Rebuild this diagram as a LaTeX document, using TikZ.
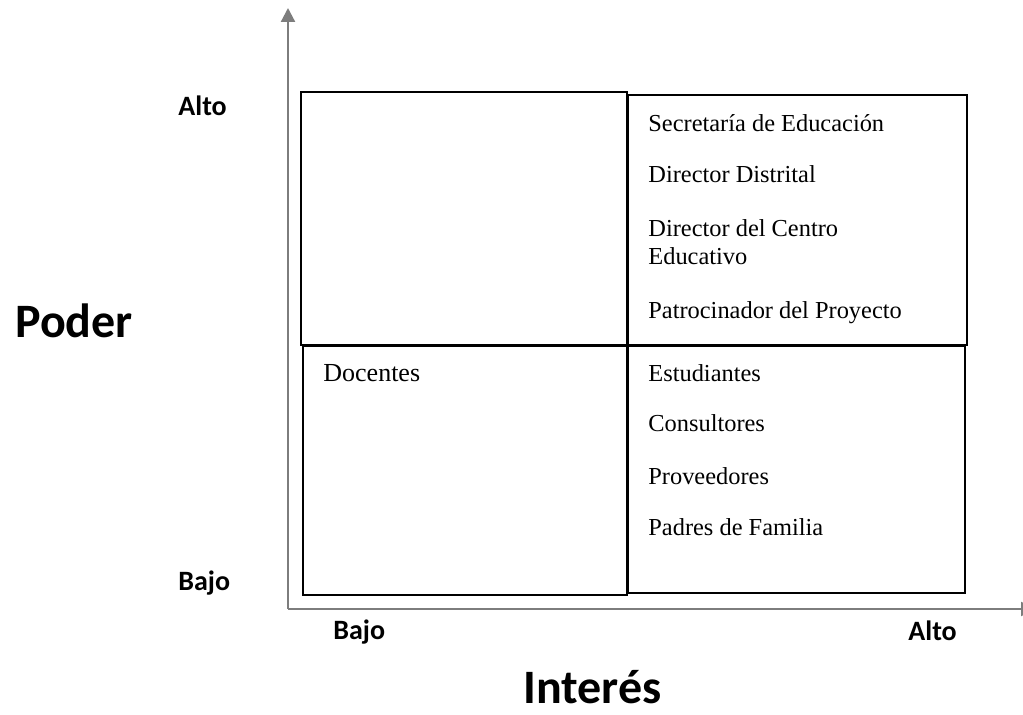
\documentclass[tikz,border=0pt]{standalone}
\usepackage{fontspec}
\setmainfont{Liberation Serif}
\newfontfamily\etiqfont{Carlito}
\usetikzlibrary{arrows.meta}
\definecolor{ejegris}{RGB}{125,125,125}
\tikzset{
	eje/.style={ejegris, line width=1.1pt, -{Triangle[length=7pt,width=7pt]}},
	cuadro/.style={black, line width=1.3pt},
	actor/.style={anchor=base west, inner sep=0pt, align=left, font=\fontsize{12.2}{14}\selectfont},
	nivel/.style={anchor=base west, inner sep=0pt, font=\etiqfont\bfseries\fontsize{14}{16}\selectfont},
	titulo/.style={anchor=base west, inner sep=0pt, font=\etiqfont\bfseries\fontsize{24}{28}\selectfont}
}
\begin{document}
\begin{tikzpicture}[x=0.5pt, y=-0.5pt]
		
		\useasboundingbox (0,0) rectangle (1023,715);
		
		% ejes
		\coordinate (origen) at (288,609);
		\coordinate (ytope) at (288,8);
		\coordinate (xtope) at (1035,609);
		\draw[eje] (origen) -- (ytope);
		\draw[eje] (origen) -- (xtope);
		
		% cuadrantes
		\draw[cuadro] (301,92) rectangle (627,345);
		\draw[cuadro] (628,95) rectangle (967,345);
		\draw[cuadro] (303,346) rectangle (627,595);
		\draw[cuadro] (628,346) rectangle (965,593);
		
		\node[actor] (secretaria) at (648,132) {Secretaría de Educación};
		\node[actor] (distrital) at (648,183) {Director Distrital};
		\node[actor] (centro) at (648,265) {Director del Centro\\Educativo};
		\node[actor] (patrocinador) at (648,319) {Patrocinador del Proyecto};
		\node[actor] (estudiantes) at (648,382) {Estudiantes};
		\node[actor] (consultores) at (648,432) {Consultores};
		\node[actor] (proveedores) at (648,485) {Proveedores};
		\node[actor] (padres) at (648,536) {Padres de Familia};
		\node[actor, font=\fontsize{13}{15}\selectfont] (docentes) at (323,382) {Docentes};
		
		% etiquetas de los ejes
		\node[nivel] (altoy) at (178,116) {Alto};
		\node[nivel] (bajoy) at (178,591) {Bajo};
		\node[nivel] (bajox) at (333,640) {Bajo};
		\node[nivel] (altox) at (908,641) {Alto};
		\node[titulo] (poder) at (15,338) {Poder};
		\node[titulo] (interes) at (523,704) {Interés};
		
	\end{tikzpicture}
\end{document}
